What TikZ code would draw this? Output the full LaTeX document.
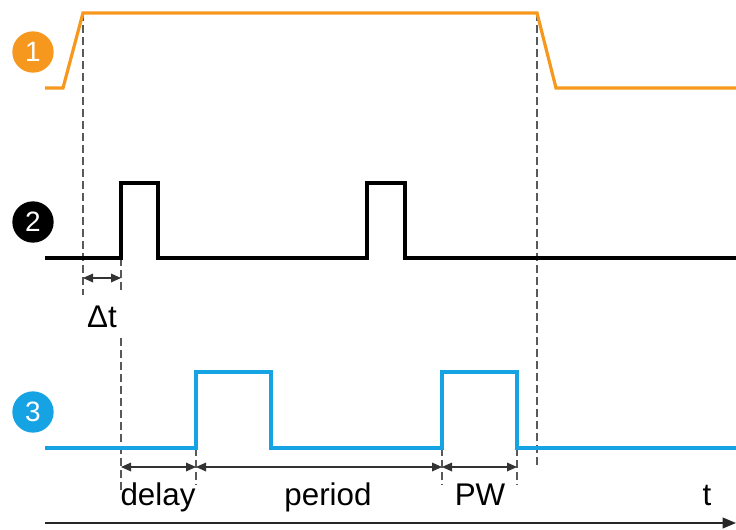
\documentclass[tikz,border=0pt]{standalone}
\usepackage{fontspec}
\setmainfont{Liberation Sans}
\usetikzlibrary{arrows.meta}
\definecolor{sigorange}{RGB}{247,152,30}
\definecolor{sigblue}{RGB}{22,163,228}
\begin{document}
\begin{tikzpicture}[x=0.75pt, y=-0.75pt,
  num/.style={circle, fill=#1, text=white, minimum size=31pt, inner sep=0pt,
              font=\fontsize{21}{21}\selectfont},
  sig/.style={line width=2.4pt, draw=#1, line join=miter},
  guide/.style={draw=black!65, line width=1.1pt, dash pattern=on 6pt off 3pt},
  dim/.style={{Triangle[length=7.5pt,width=6.5pt]}-{Triangle[length=7.5pt,width=6.5pt]},
              line width=0.9pt, draw=black!80},
  lbl/.style={font=\fontsize{23.5}{26}\selectfont, anchor=base, inner sep=0pt}
]
  \useasboundingbox (0,0) rectangle (736,529);

  %-- Numéros
  \node[num=sigorange] (n1) at (33,52)  {1};
  \node[num=black]     (n2) at (33,222) {2};
  \node[num=sigblue]   (n3) at (33,412) {3};

  %-- Repères
  \coordinate (a1) at (83,13);   \coordinate (a2) at (83,295);
  \coordinate (b1) at (121,258); \coordinate (b2) at (121,293);
  \coordinate (b3) at (121,338); \coordinate (b4) at (121,490);
  \coordinate (c1) at (196,448); \coordinate (c2) at (196,485);
  \coordinate (d1) at (442,448); \coordinate (d2) at (442,485);
  \coordinate (e1) at (517,448); \coordinate (e2) at (517,485);
  \coordinate (f1) at (537,13);  \coordinate (f2) at (537,467);

  %-- Lignes de repère
  \draw[guide] (a1) -- (a2);
  \draw[guide] (b1) -- (b2);
  \draw[guide] (b3) -- (b4);
  \draw[guide] (c1) -- (c2);
  \draw[guide] (d1) -- (d2);
  \draw[guide] (e1) -- (e2);
  \draw[guide] (f1) -- (f2);

  %-- Signaux
  \draw[sig=sigorange] (45,88) -- (63,88) -- (a1) -- (f1) -- (556,88) -- (736,88);
  \draw[sig=black] (45,258) -- (b1) -- (121,183) -- (158,183) -- (158,258)
                   -- (367,258) -- (367,183) -- (405,183) -- (405,258) -- (736,258);
  \draw[sig=sigblue] (45,448) -- (c1) -- (196,372) -- (271,372) -- (271,448)
                     -- (d1) -- (442,372) -- (517,372) -- (e1) -- (736,448);

  %-- Cotes
  \coordinate (dt1) at (83,278);  \coordinate (dt2) at (121,278);
  \coordinate (m1)  at (121,467); \coordinate (m2)  at (196,467);
  \coordinate (m3)  at (442,467); \coordinate (m4)  at (517,467);
  \draw[dim] (dt1) -- (dt2);
  \draw[dim] (m1) -- (m2);
  \draw[dim] (m2) -- (m3);
  \draw[dim] (m3) -- (m4);

  \node[lbl] (dt)  at (102,327) {Δt};
  \node[lbl] (dl)  at (158,505) {delay};
  \node[lbl] (per) at (328,505) {period};
  \node[lbl] (pw)  at (480,505) {PW};
  \node[lbl] (tt)  at (707,505) {t};

  %-- Axe du temps
  \coordinate (ax1) at (45,523); \coordinate (ax2) at (736,523);
  \draw[-{Triangle[length=10pt,width=8pt]}, line width=1.4pt, draw=black!85] (ax1) -- (ax2);
\end{tikzpicture}
\end{document}
